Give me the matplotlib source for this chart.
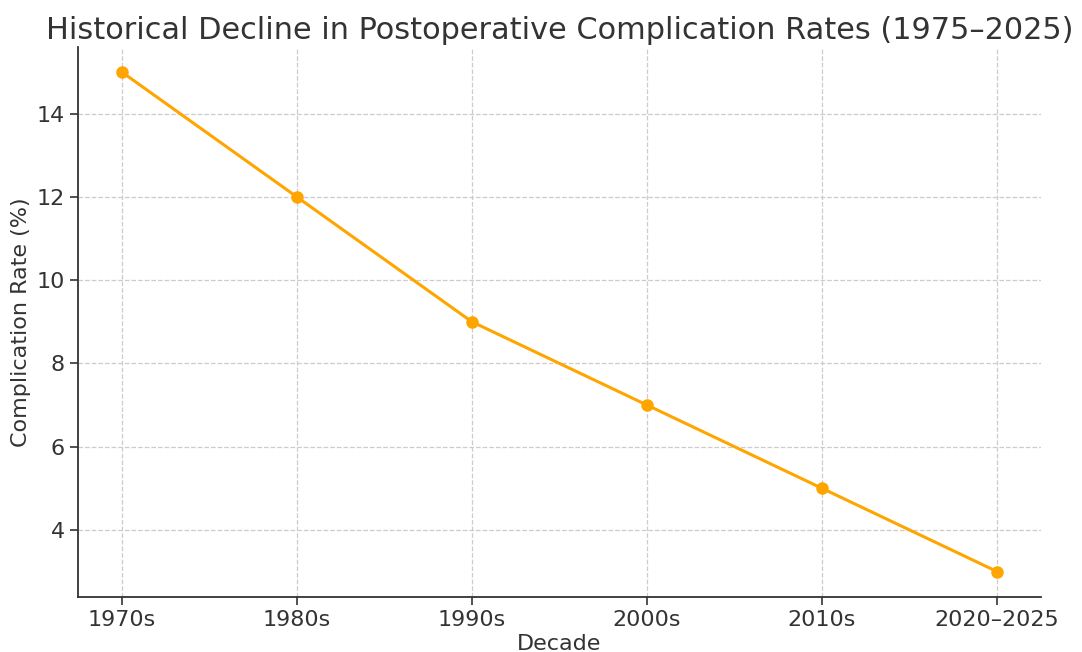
import matplotlib
matplotlib.use("Agg")
import matplotlib.pyplot as plt

decades = ["1970s", "1980s", "1990s", "2000s", "2010s", "2020–2025"]
rates = [15, 12, 9, 7, 5, 3]

TXT = "#333333"
plt.rcParams["text.color"] = TXT
plt.rcParams["axes.labelcolor"] = TXT
plt.rcParams["xtick.color"] = TXT
plt.rcParams["ytick.color"] = TXT

fig, ax = plt.subplots(figsize=(10.82, 6.52), dpi=100)
ax.plot(decades, rates, marker="o", color="#FFA500", lw=2.2, ms=8)
ax.set_title("Historical Decline in Postoperative Complication Rates (1975–2025)",
             fontsize=21.9, pad=6)
ax.set_xlabel("Decade", fontsize=16, labelpad=3)
ax.set_ylabel("Complication Rate (%)", fontsize=16)
ax.tick_params(labelsize=16, length=6, width=1.2)
ax.grid(True, ls="--", color="#cccccc", lw=0.9)
for s in ("top", "right"):
    ax.spines[s].set_visible(False)
for s in ("left", "bottom"):
    ax.spines[s].set_linewidth(1.3)
    ax.spines[s].set_color(TXT)
fig.subplots_adjust(left=0.072, right=0.962, top=0.928, bottom=0.085)
fig.savefig("out.png", dpi=100)
